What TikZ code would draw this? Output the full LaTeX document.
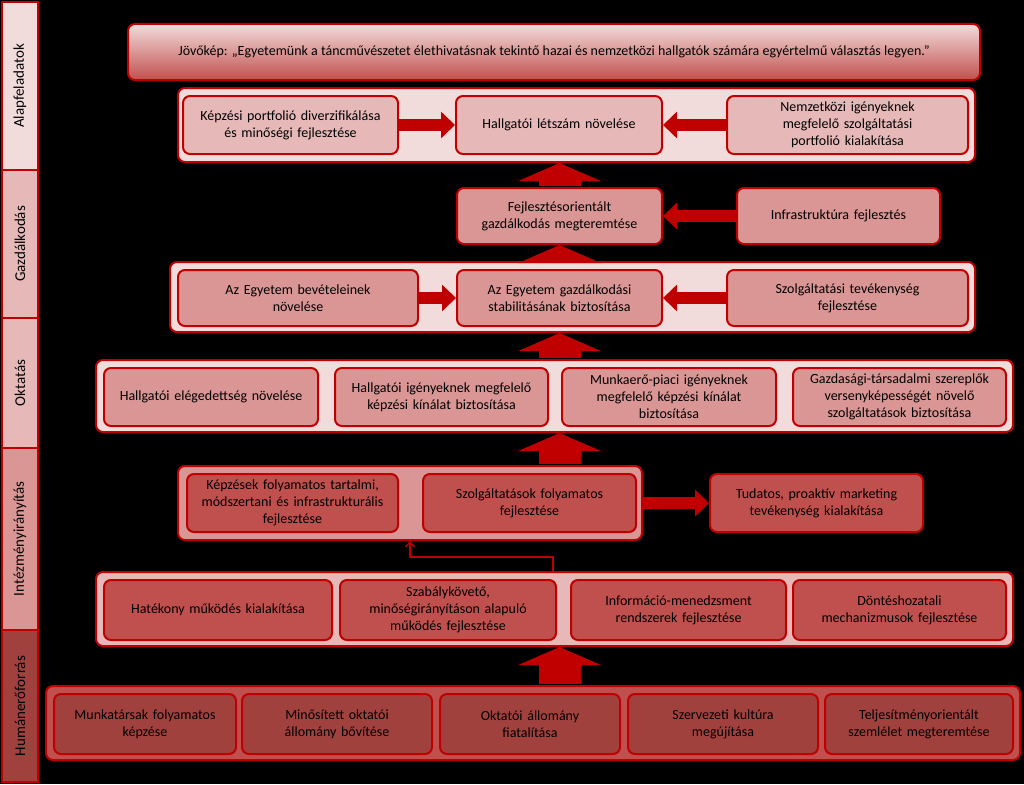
\documentclass[tikz,border=0pt]{standalone}
\usepackage{fontspec}
\setmainfont{Carlito}
\usetikzlibrary{arrows.meta,positioning}
\definecolor{dr}{HTML}{C00000}
\definecolor{p1}{HTML}{F2DCDB}
\definecolor{p2}{HTML}{E6B9B8}
\definecolor{p3}{HTML}{D99694}
\definecolor{p4}{HTML}{C0504D}
\definecolor{p5}{HTML}{A0413E}
\tikzset{
  band/.style={draw=dr,line width=2pt,rounded corners=7pt,inner sep=0pt},
  bx/.style={draw=dr,line width=2pt,rounded corners=7pt,align=center,font=\fontsize{14}{17}\selectfont,inner sep=2pt,text=black},
  side/.style={draw=dr,line width=2pt,inner sep=0pt},
  harr/.style={dr,line width=12pt,-{Triangle[width=26pt,length=14pt]}},
  varr/.style={dr,line width=42pt,-{Triangle[width=82pt,length=18pt]}},
}
\newcommand{\bandbox}[6]{\node[band,fill=#6,minimum width=#3-#2,minimum height=#5-#4] (#1) at ({(#2+#3)/2},{(#4+#5)/2}) {};}
\newcommand{\tbox}[7]{\node[bx,fill=#6,minimum width=#3-#2,minimum height=#5-#4,text width=#3-#2-8] (#1) at ({(#2+#3)/2},{(#4+#5)/2}) {#7};}
\begin{document}
\begin{tikzpicture}[x=1pt,y=-1pt]
\fill[black] (0,0) rectangle (1024,784);
\useasboundingbox (0,0) rectangle (1024,784);
% side bars
\foreach \a/\b/\c/\t/\n in {2/170/p1/Alapfeladatok/s1,170/318/p2/Gazdálkodás/s2,318/448/p2/Oktatás/s3,448/630/p3/Intézményirányítás/s4,630/782/p5/Humánerőforrás/s5}{
  \node[side,fill=\c,minimum height=36,minimum width=\b-\a,rotate=90,font=\fontsize{15}{18}\selectfont] (\n) at (20,{(\a+\b)/2}) {\t};
}
% vision
\node[band,top color=p1,bottom color=p4,minimum width=852,minimum height=56,font=\fontsize{14}{17}\selectfont] (vis) at (554,52) {Jövőkép: „Egyetemünk a táncművészetet élethivatásnak tekintő hazai és nemzetközi hallgatók számára egyértelmű választás legyen.”};
% row1
\bandbox{r1}{178}{975}{88}{162}{p1}
\tbox{a1}{183}{398}{96}{154}{p2}{Képzési portfolió diverzifikálása\\és minőségi fejlesztése}
\tbox{a2}{456}{662}{96}{154}{p2}{Hallgatói létszám növelése}
\tbox{a3}{727}{968}{96}{154}{p2}{Nemzetközi igényeknek\\megfelelő szolgáltatási\\portfolió kialakítása}
\draw[harr] (a1) -- (a2);
\draw[harr] (a3) -- (a2);
% row2
\tbox{b1}{457}{662}{188}{244}{p3}{Fejlesztésorientált\\gazdálkodás megteremtése}
\tbox{b2}{737}{940}{188}{244}{p3}{Infrastruktúra fejlesztés}
\draw[harr] (b2) -- (b1);
\draw[varr,shorten <=1pt] (b1.north) -- (b1.north |- r1.south);
% row3
\bandbox{r3}{170}{975}{262}{332}{p1}
\tbox{c1}{178}{418}{270}{326}{p3}{Az Egyetem bevételeinek\\növelése}
\tbox{c2}{457}{662}{270}{326}{p3}{Az Egyetem gazdálkodási\\stabilitásának biztosítása}
\tbox{c3}{727}{968}{270}{326}{p3}{Szolgáltatási tevékenység\\fejlesztése}
\draw[harr] (c1) -- (c2);
\draw[harr] (c3) -- (c2);
\draw[varr,shorten <=1pt] (r3.north -| b1) -- (b1.south);
% row4
\bandbox{r4}{96}{1013}{360}{432}{p1}
\tbox{d1}{104}{318}{368}{426}{p3}{Hallgatói elégedettség növelése}
\tbox{d2}{335}{548}{368}{426}{p3}{Hallgatói igényeknek megfelelő\\képzési kínálat biztosítása}
\tbox{d3}{562}{776}{368}{426}{p3}{Munkaerő-piaci igényeknek\\megfelelő képzési kínálat\\biztosítása}
\tbox{d4}{793}{1006}{368}{426}{p3}{Gazdasági-társadalmi szereplők\\versenyképességét növelő\\szolgáltatások biztosítása}
\draw[varr,shorten <=1pt] (r4.north -| b1) -- (r3.south -| b1);
% row5
\bandbox{r5}{178}{642}{466}{540}{p3}
\tbox{e1}{187}{398}{474}{532}{p4}{Képzések folyamatos tartalmi,\\módszertani és infrastrukturális\\fejlesztése}
\tbox{e2}{423}{636}{474}{532}{p4}{Szolgáltatások folyamatos\\fejlesztése}
\tbox{e3}{710}{923}{474}{532}{p4}{Tudatos, proaktív marketing\\tevékenység kialakítása}
\draw[harr] (r5.east |- e3) -- (e3);
\draw[varr,shorten <=1pt] (r5.north -| b1) -- (r4.south -| b1);
% row6
\bandbox{r6}{96}{1013}{572}{646}{p2}
\tbox{f1}{104}{332}{580}{640}{p4}{Hatékony működés kialakítása}
\tbox{f2}{340}{556}{580}{640}{p4}{Szabálykövető,\\minőségirányításon alapuló\\működés fejlesztése}
\tbox{f3}{571}{786}{580}{640}{p4}{Információ-menedzsment\\rendszerek fejlesztése}
\tbox{f4}{793}{1006}{580}{640}{p4}{Döntéshozatali\\mechanizmusok fejlesztése}
\coordinate (t1) at (553,557);
\draw[dr,line width=1.3pt,-{Straight Barb[length=5pt,width=9pt]}] (r6.north -| t1) -- (t1) -| (r5.south -| 410,0);
% row7
\bandbox{r7}{46}{1020}{686}{760}{p4}
\tbox{g1}{54}{236}{694}{754}{p5}{Munkatársak folyamatos\\képzése}
\tbox{g2}{242}{432}{694}{754}{p5}{Minősített oktatói\\állomány bővítése}
\tbox{g3}{440}{620}{694}{754}{p5}{Oktatói állomány\\fiatalítása}
\tbox{g4}{628}{818}{694}{754}{p5}{Szervezeti kultúra\\megújítása}
\tbox{g5}{825}{1013}{694}{754}{p5}{Teljesítményorientált\\szemlélet megteremtése}
\draw[varr,shorten <=1pt] (r7.north -| b1) -- (r6.south -| b1);
\end{tikzpicture}
\end{document}
